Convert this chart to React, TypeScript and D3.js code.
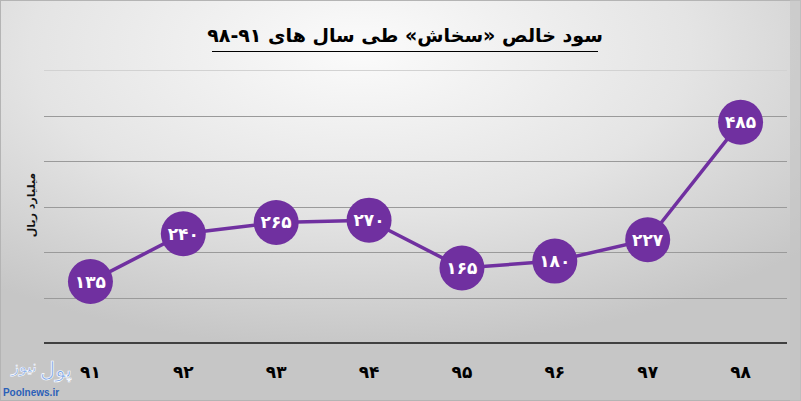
import React from "react";
import * as d3 from "d3";

const years = ["۹۱", "۹۲", "۹۳", "۹۴", "۹۵", "۹۶", "۹۷", "۹۸"];
const values = [135, 240, 265, 270, 165, 180, 227, 485];
const valueLabels = ["۱۳۵", "۲۴۰", "۲۶۵", "۲۷۰", "۱۶۵", "۱۸۰", "۲۲۷", "۴۸۵"];
const yTicks = [100, 200, 300, 400, 500, 600];
const titleText = "سود خالص «سخاش» طی سال های ۹۱-۹۸";
const yAxisTitle = "میلیارد ریال";
const logoWords = ["پول", "نیوز"];

const W = 801;
const H = 401;
const PURPLE = "#7030a0";
const FONT = "'DejaVu Sans', sans-serif";

export default function App() {
  const x = d3.scaleBand<string>().domain(years).range([44, 787]);
  const y = d3.scaleLinear().domain([0, 600]).range([343, 70]);
  const cx = (i: number) => (x(years[i]) as number) + x.bandwidth() / 2;
  const line = d3
    .line<number>()
    .x((_, i) => cx(i))
    .y((d) => y(d));

  return (
    <svg
      width={W}
      height={H}
      style={{ position: "absolute", left: 0, top: 0, display: "block" }}
    >
      <defs>
        <radialGradient id="bg" cx="0.45" cy="0.12" r="0.75" fx="0.45" fy="0.12">
          <stop offset="0" stopColor="#fbfbfb" />
          <stop offset="0.55" stopColor="#e4e4e4" />
          <stop offset="1" stopColor="#c6c6c6" />
        </radialGradient>
      </defs>
      <rect x={0} y={0} width={W} height={H} fill="url(#bg)" />
      <rect x={0.5} y={0.5} width={W - 1} height={H - 1} fill="none" stroke="#b4b4b4" />
      <rect x={790} y={0} width={11} height={H} fill="#c4c4c4" opacity={0.6} />

      {/* title */}
      <text
        x={405}
        y={42}
        textAnchor="middle"
        direction="rtl"
        fontFamily={FONT}
        fontWeight="bold"
        fontSize={19}
        fill="#000"
      >
        {titleText}
      </text>
      <line x1={212} x2={598} y1={51.5} y2={51.5} stroke="#000" strokeWidth={1} />

      {/* gridlines */}
      {yTicks.map((t) => (
        <line
          key={t}
          x1={44}
          x2={787}
          y1={Math.round(y(t)) + 0.5}
          y2={Math.round(y(t)) + 0.5}
          stroke={t === 600 ? "#d2d2d2" : "#9a9a9a"}
          strokeWidth={1}
        />
      ))}
      {/* axis */}
      <line x1={44} x2={787} y1={y(0)} y2={y(0)} stroke="#404040" strokeWidth={2} />

      {/* y axis title */}
      <text
        transform={`translate(31,205) rotate(-90)`}
        textAnchor="middle"
        dominantBaseline="central"
        direction="rtl"
        fontFamily={FONT}
        fontWeight="bold"
        fontSize={11}
        fill="#111"
      >
        {yAxisTitle}
      </text>

      {/* x labels */}
      {years.map((yr, i) => (
        <text
          key={yr}
          x={cx(i)}
          y={378}
          textAnchor="middle"
          fontFamily={FONT}
          fontWeight="bold"
          fontSize={17}
          fill="#000"
        >
          {yr}
        </text>
      ))}

      {/* line */}
      <path d={line(values) || ""} fill="none" stroke={PURPLE} strokeWidth={3.5} />

      {/* markers */}
      {values.map((v, i) => (
        <g key={i}>
          <circle cx={cx(i)} cy={y(v)} r={22.5} fill={PURPLE} />
          <text
            x={cx(i)}
            y={y(v)}
            textAnchor="middle"
            dominantBaseline="central"
            fontFamily={FONT}
            fontWeight="bold"
            fontSize={17}
            fill="#fff"
          >
            {valueLabels[i]}
          </text>
        </g>
      ))}

      {/* logo */}
      <text
        x={56}
        y={377}
        textAnchor="middle"
        direction="rtl"
        fontFamily={FONT}
        fontSize={21}
        fill="#7aa3e6"
        stroke="#ffffff"
        strokeWidth={0.7}
      >
        {logoWords[0]}
      </text>
      <text
        x={24}
        y={372}
        textAnchor="middle"
        direction="rtl"
        fontFamily={FONT}
        fontSize={16}
        fill="#7aa3e6"
        stroke="#ffffff"
        strokeWidth={0.6}
      >
        {logoWords[1]}
      </text>
      <text
        x={31}
        y={396}
        textAnchor="middle"
        fontFamily="'Liberation Sans', Arial, sans-serif"
        fontWeight="bold"
        fontSize={10}
        fill="#2b5fb8"
      >
        Poolnews.ir
      </text>
    </svg>
  );
}
